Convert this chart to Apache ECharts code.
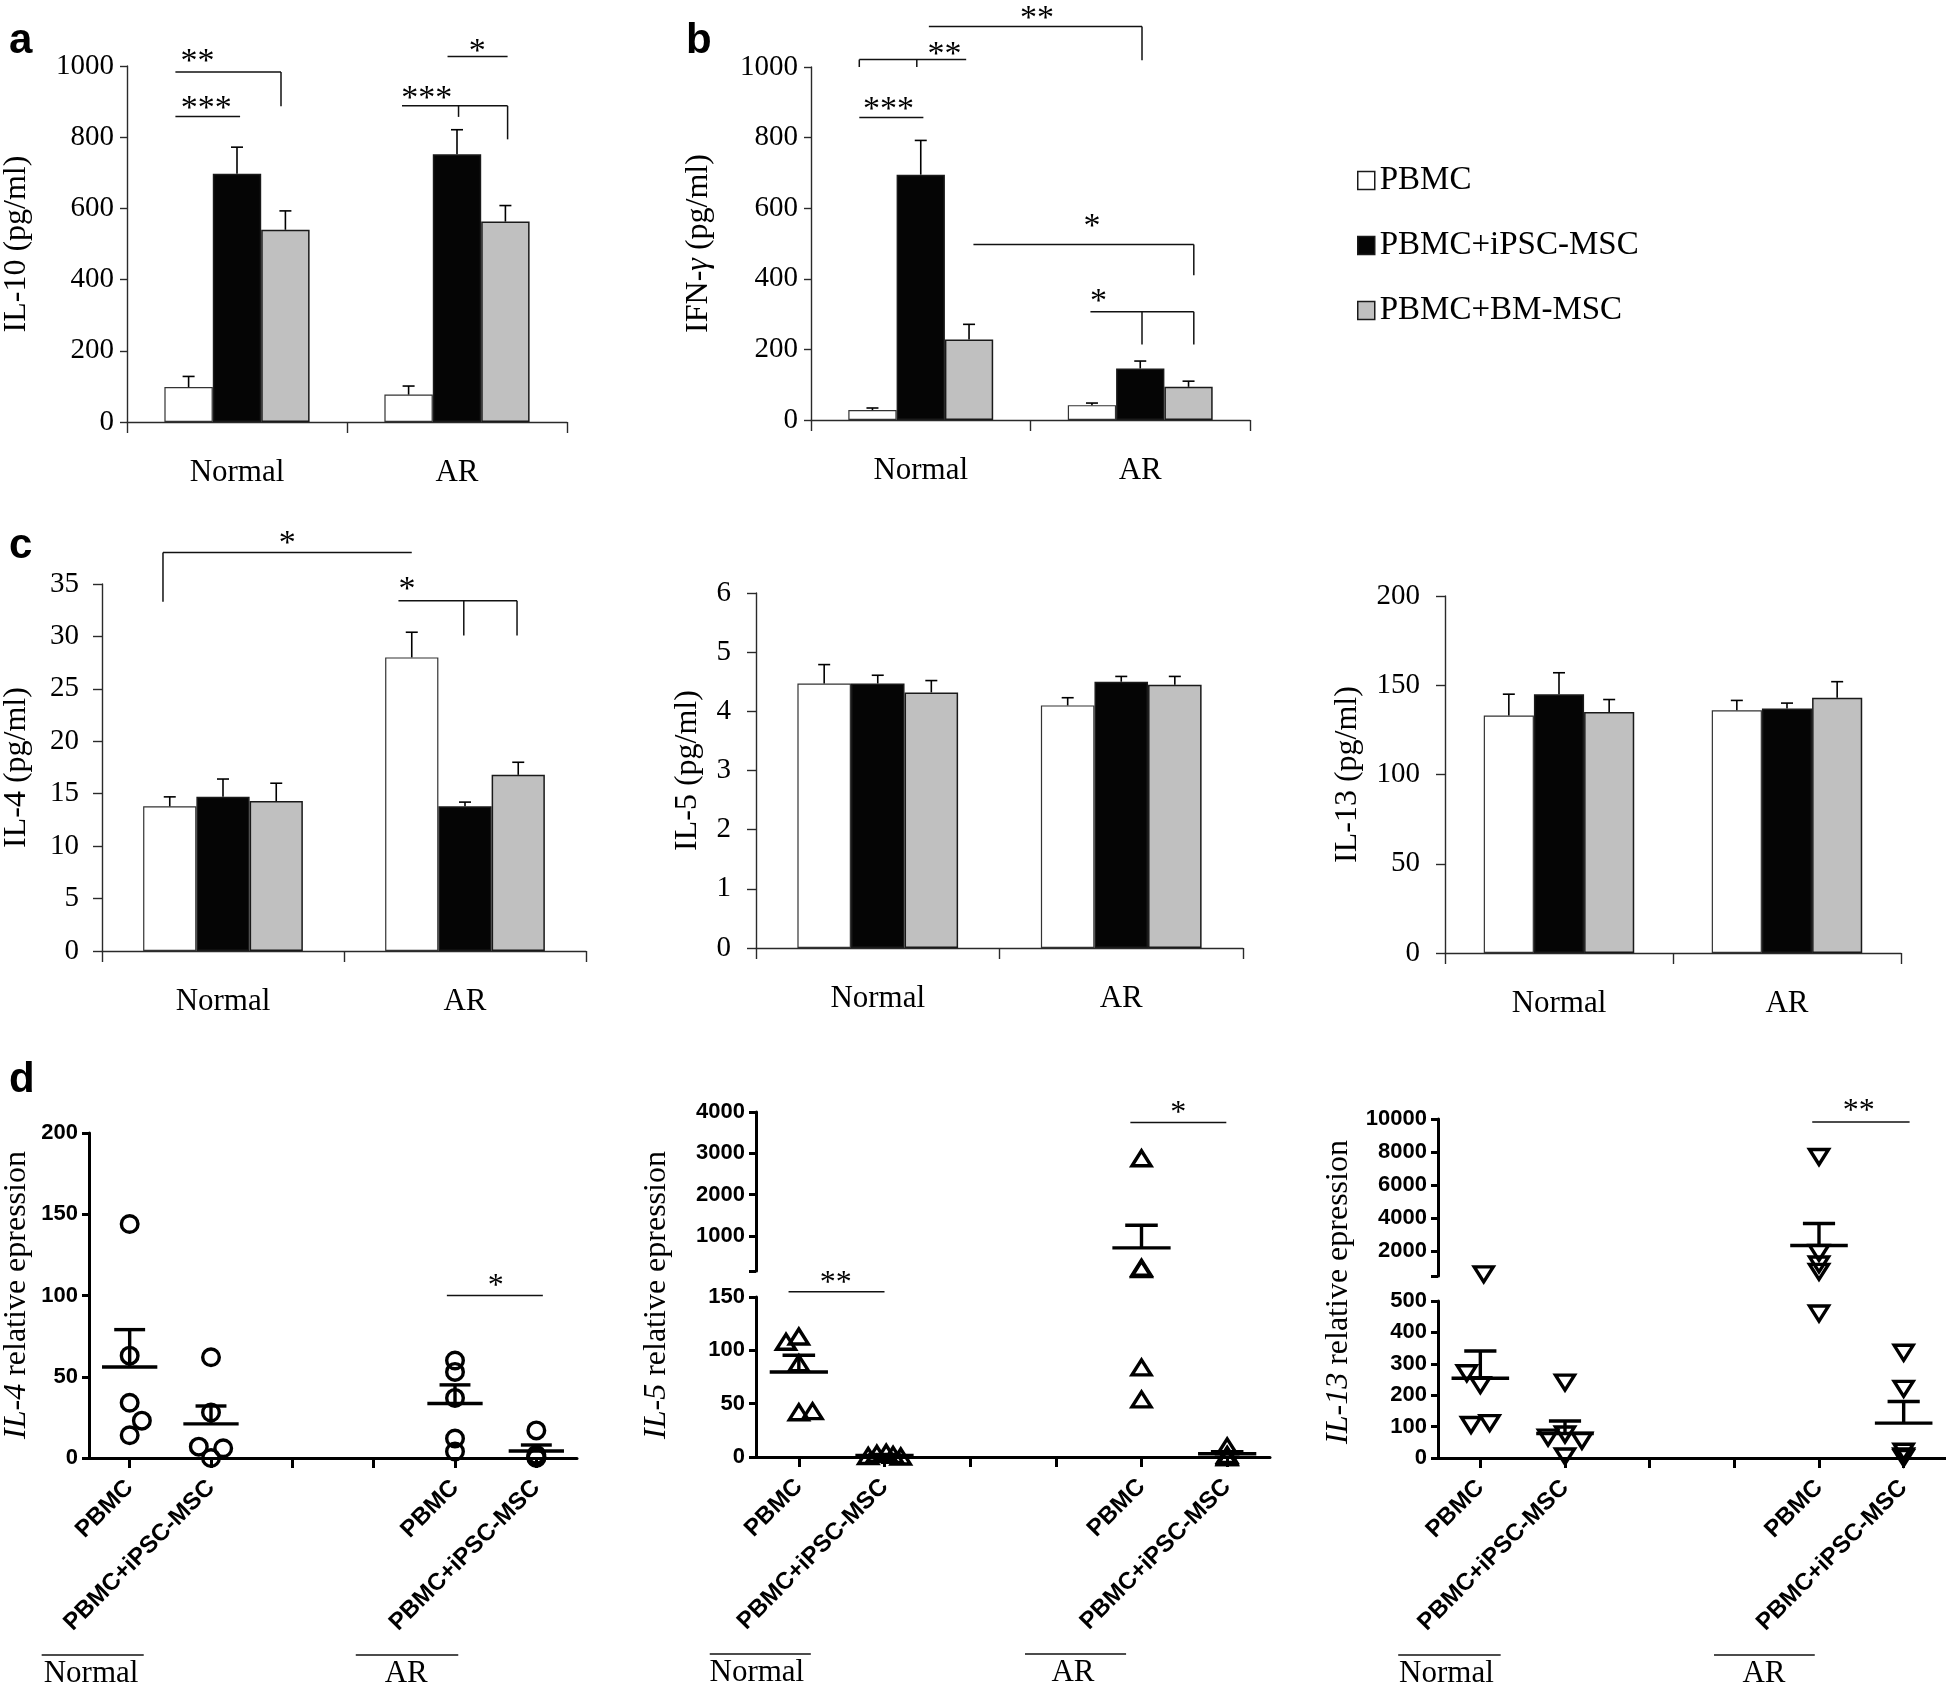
<!DOCTYPE html>
<html>
<head>
<meta charset="utf-8">
<script src="https://cdn.jsdelivr.net/npm/echarts@6.0.0/dist/echarts.min.js"></script>
<style>
html,body{margin:0;padding:0;background:#fff;}
#chart{width:1946px;height:1688px;}
</style>
</head>
<body>
<div id="chart"></div>
<script>
// ================= DATA =================
const groups = ['Normal', 'AR'];
const treatments = ['PBMC', 'PBMC+iPSC-MSC', 'PBMC+BM-MSC'];

// Panel a: IL-10 (pg/ml); rows = treatments, cols = [Normal, AR]
const il10Mean   = [[98, 77], [697, 752], [540, 563]];
const il10ErrTop = [[128, 101], [772, 821], [593, 608]];
// Panel b: IFN-gamma (pg/ml)
const ifngMean   = [[28, 42], [695, 146], [228, 94]];
const ifngErrTop = [[34, 48], [792, 167], [271, 110]];
// Panel c: IL-4, IL-5, IL-13 (pg/ml)
const il4Mean    = [[13.8, 28.0], [14.7, 13.8], [14.3, 16.8]];
const il4ErrTop  = [[14.7, 30.4], [16.4, 14.2], [16.0, 18.0]];
const il5Mean    = [[4.47, 4.10], [4.47, 4.50], [4.32, 4.45]];
const il5ErrTop  = [[4.79, 4.23], [4.61, 4.59], [4.52, 4.59]];
const il13Mean   = [[133, 136], [145, 137], [135, 143]];
const il13ErrTop = [[145, 141.5], [157, 140], [142, 152]];

// Panel d: relative expression; categories on x axis
const dCategories = ['PBMC', 'PBMC+iPSC-MSC', '', '', 'PBMC', 'PBMC+iPSC-MSC'];
// points: [category index, value, horizontal jitter in category widths]
const il4ExprPoints = [
  [0, 144, 0], [0, 63, 0], [0, 34, 0], [0, 23, 0.15], [0, 14, 0],
  [1, 62, 0], [1, 28, 0], [1, 7, -0.15], [1, 6, 0.15], [1, 0, 0],
  [4, 60, 0], [4, 53, 0], [4, 37, 0], [4, 12, 0], [4, 4, 0],
  [5, 17, 0], [5, 2, 0], [5, 1, 0], [5, 0.5, 0], [5, 0, 0]
];
// stats: [category index, mean, mean + SEM]
const il4ExprStats = [[0, 56, 79], [1, 21, 32], [4, 33.5, 45], [5, 4.3, 8]];

const il5ExprPoints = [
  [0, 108, -0.15], [0, 113, 0], [0, 88, 0], [0, 42, 0], [0, 43, 0.16],
  [1, 1, -0.19], [1, 3, -0.09], [1, 4, 0.02], [1, 2, 0.1], [1, 0.5, 0.19],
  [4, 2880, 0], [4, 230, 0], [4, 200, 0], [4, 84, 0], [4, 54, 0],
  [5, 10, 0], [5, 2, 0], [5, 1, 0], [5, 0, 0], [5, 0, 0]
];
const il5ExprStats = [[0, 79.7, 95.4], [1, 1.5, 2.5], [4, 710, 1258], [5, 3, 5]];

const il13ExprPoints = [
  [0, 600, 0.04], [0, 270, -0.16], [0, 232, 0], [0, 105, -0.11], [0, 111, 0.11],
  [1, 240, 0], [1, 65, -0.2], [1, 75, 0], [1, 55, 0.2], [1, 5, 0],
  [4, 7700, 0], [4, 1900, 0], [4, 1200, 0], [4, 750, 0], [4, 460, 0],
  [5, 335, 0], [5, 220, 0], [5, 20, 0], [5, 5, 0], [5, 0, 0]
];
const il13ExprStats = [[0, 254, 341], [1, 78, 118], [4, 2344, 3681], [5, 111, 180]];

// axis ticks / broken-axis segments
const il4LowerTicks  = [0, 50, 100, 150, 200];
const il5LowerTicks  = [0, 50, 100, 150];
const il5UpperTicks  = [150, 1000, 2000, 3000, 4000];
const il5UpperLabels = [1000, 2000, 3000, 4000];
const il13LowerTicks = [0, 100, 200, 300, 400, 500];
const il13UpperTicks = [500, 2000, 4000, 6000, 8000, 10000];
const il13UpperLabels = [2000, 4000, 6000, 8000, 10000];

// significance annotations: segments [x1, y1, x2, y2] (x in category units from first category), stars [x, y, text]
const sigA_segs = [[-0.28, 983, 0.2, 983], [0.2, 983, 0.2, 887], [-0.28, 858, 0.014, 858],
  [0.75, 888, 1.23, 888], [1.007, 888, 1.007, 857], [1.23, 888, 1.23, 794], [0.957, 1027, 1.23, 1027]];
const sigA_stars = [[-0.18, 1035, '**'], [-0.14, 903, '***'], [0.863, 932, '***'], [1.092, 1063, '*']];
const sigB_segs = [[0.037, 1115, 1.008, 1115], [1.008, 1115, 1.008, 1019],
  [-0.28, 1021, 0.207, 1021], [-0.28, 1021, -0.28, 1000], [-0.018, 1021, -0.018, 1000],
  [-0.28, 857, 0.012, 857],
  [0.24, 497, 1.244, 497], [1.244, 497, 1.244, 410],
  [0.773, 307, 1.244, 307], [1.008, 307, 1.008, 214], [1.244, 307, 1.244, 214]];
const sigB_stars = [[0.53, 1160, '**'], [0.108, 1057, '**'], [-0.147, 901, '***'], [0.78, 571, '*'], [0.81, 358, '*']];
const sigC_segs = [[-0.248, 38.0, 0.78, 38.0], [-0.248, 38.0, -0.248, 33.3],
  [0.725, 33.4, 1.215, 33.4], [0.995, 33.4, 0.995, 30.1], [1.215, 33.4, 1.215, 30.1]];
const sigC_stars = [[0.265, 39.66, '*'], [0.76, 35.2, '*']];
const sigD1_segs = [[3.9, 100, 5.08, 100]];
const sigD1_stars = [[4.5, 110.5, '*']];
const sigD2low_segs = [[-0.12, 155, 1.0, 155]];
const sigD2low_stars = [[0.43, 170, '**']];
const sigD2up_segs = [[3.87, 3744, 4.99, 3744]];
const sigD2up_stars = [[4.43, 4162, '*']];
const sigD3up_segs = [[3.92, 9818, 5.07, 9818]];
const sigD3up_stars = [[4.47, 10929, '**']];
// group underlines for panel d: [x1, x2, label, labelX]
const dLeftGroups  = [[-1.082, 0.173, 'Normal', -0.475], [2.78, 4.04, 'AR', 3.4]];
const dMidGroups   = [[-1.04, 0.14, 'Normal', -0.49], [2.64, 3.82, 'AR', 3.2]];
const dRightGroups = [[-0.97, 0.24, 'Normal', -0.4], [2.76, 3.95, 'AR', 3.35]];

// ================= STYLE / BUILD =================
const SERIF = '"Liberation Serif","Times New Roman",Times,serif';
const SANS = '"Liberation Sans",Arial,Helvetica,sans-serif';
const BAR_COLORS = ['#ffffff', '#050505', '#c0c0c0'];
const BAR_CAT_GAP = 0.34;
const AXIS_COLOR = '#2a2a2a';
const plain = function (v) { return String(v); };

const grids = [], xAxes = [], yAxes = [], series = [];
function addGrid(r) {
  grids.push({left: r[0], top: r[1], width: r[2], height: r[3], containLabel: false, outerBoundsMode: 'none'});
  return grids.length - 1;
}

function errSeries(gi, means, errs) {
  const data = [];
  for (let s = 0; s < 3; s++) for (let c = 0; c < 2; c++) data.push([c, means[s][c], errs[s][c], s]);
  return {
    type: 'custom', xAxisIndex: gi, yAxisIndex: gi, silent: true, clip: false, z: 5,
    encode: {x: 0, y: 1}, data: data,
    renderItem: function (params, api) {
      const band = api.size([1, 0])[0];
      const bw = band * (1 - BAR_CAT_GAP) / 3;
      const c = api.value(0), s = api.value(3);
      const p0 = api.coord([c, api.value(1)]);
      const p1 = api.coord([c, api.value(2)]);
      const x = p0[0] + (s - 1) * bw;
      const st = {stroke: '#000', lineWidth: 1.6};
      return {type: 'group', children: [
        {type: 'line', shape: {x1: x, y1: p0[1], x2: x, y2: p1[1]}, style: st},
        {type: 'line', shape: {x1: x - 6, y1: p1[1], x2: x + 6, y2: p1[1]}, style: st}
      ]};
    }
  };
}

function annSeries(gi, yMin, segs, stars, starSize, lineW, grp) {
  return {
    type: 'custom', xAxisIndex: gi, yAxisIndex: gi, silent: true, clip: false, z: 6,
    encode: {x: 0, y: 1}, data: [[0, yMin]],
    renderItem: function (params, api) {
      const band = api.size([1, 0])[0];
      const P = function (xc, v) { const p = api.coord([0, v]); return [p[0] + xc * band, p[1]]; };
      const ch = [];
      (segs || []).forEach(function (s) {
        const a = P(s[0], s[1]), b = P(s[2], s[3]);
        ch.push({type: 'line', shape: {x1: a[0], y1: a[1], x2: b[0], y2: b[1]}, style: {stroke: '#111', lineWidth: lineW}});
      });
      (stars || []).forEach(function (t) {
        const a = P(t[0], t[1]);
        ch.push({type: 'text', x: a[0], y: a[1] + starSize * 0.25,
          style: {text: t[2], fontFamily: SERIF, fontSize: starSize, fill: '#000', align: 'center', verticalAlign: 'middle'}});
      });
      if (grp) {
        const y0 = P(0, 0)[1];
        grp.forEach(function (g) {
          const a = P(g[0], 0), b = P(g[1], 0), t = P(g[3], 0);
          ch.push({type: 'line', shape: {x1: a[0], y1: y0 + 197, x2: b[0], y2: y0 + 197}, style: {stroke: '#111', lineWidth: 1.6}});
          ch.push({type: 'text', x: t[0], y: y0 + 216,
            style: {text: g[2], fontFamily: SERIF, fontSize: 31, fill: '#000', align: 'center', verticalAlign: 'middle'}});
        });
      }
      return {type: 'group', children: ch};
    }
  };
}

function barPanel(rect, means, errs, cfg, segs, stars) {
  const gi = addGrid(rect);
  xAxes.push({type: 'category', gridIndex: gi, data: groups, boundaryGap: true,
    axisLine: {show: true, lineStyle: {color: AXIS_COLOR, width: 1.4}},
    axisTick: {show: true, length: 11, alignWithLabel: false, lineStyle: {color: AXIS_COLOR, width: 1.4}},
    axisLabel: {fontFamily: SERIF, fontSize: 31, color: '#000', margin: 35, interval: 0},
    splitLine: {show: false}});
  yAxes.push({type: 'value', gridIndex: gi, min: cfg.min, max: cfg.max, interval: cfg.interval,
    name: cfg.name, nameLocation: 'middle', nameGap: cfg.nameGap, nameRotate: 90, nameMoveOverlap: false,
    nameTextStyle: {fontFamily: SERIF, fontSize: 32, color: '#000',
      rich: {g: {fontFamily: SERIF, fontSize: 32, fontStyle: 'italic', color: '#000'}}},
    axisLine: {show: true, lineStyle: {color: AXIS_COLOR, width: 1.4}},
    axisTick: {show: true, length: cfg.tickLen, lineStyle: {color: AXIS_COLOR, width: 1.4}},
    axisLabel: {fontFamily: SERIF, fontSize: 29, color: '#000', margin: cfg.labelMargin, formatter: plain},
    splitLine: {show: false}});
  treatments.forEach(function (nm, s) {
    series.push({type: 'bar', name: nm, xAxisIndex: gi, yAxisIndex: gi, data: means[s],
      barGap: '0%', barCategoryGap: (BAR_CAT_GAP * 100) + '%', silent: true, z: 3,
      itemStyle: {color: BAR_COLORS[s], borderColor: s === 0 ? '#333' : '#1a1a1a', borderWidth: s === 0 ? 1.2 : 1.5}});
  });
  series.push(errSeries(gi, means, errs));
  if (segs) series.push(annSeries(gi, cfg.min, segs, stars, 34, 1.5, null));
  return gi;
}

function dXAxis(gi, show) {
  return {type: 'category', gridIndex: gi, data: dCategories, boundaryGap: true, show: show,
    axisLine: {show: true, lineStyle: {color: '#000', width: 3}},
    axisTick: {show: true, alignWithLabel: true, interval: 0, length: 10, lineStyle: {color: '#000', width: 3}},
    axisLabel: {interval: 0, rotate: 45, fontFamily: SANS, fontWeight: 'bold', fontSize: 24, color: '#000', margin: 26},
    splitLine: {show: false}};
}
function dYAxis(gi, min, max, ticks, labels) {
  return {type: 'value', gridIndex: gi, min: min, max: max,
    axisLine: {show: true, lineStyle: {color: '#000', width: 3}},
    axisTick: {show: true, length: 7, customValues: ticks, lineStyle: {color: '#000', width: 3}},
    axisLabel: {fontFamily: SANS, fontWeight: 'bold', fontSize: 22, color: '#000', margin: 11, customValues: labels, formatter: plain},
    splitLine: {show: false}};
}

function pointSeries(gi, pts, marker) {
  return {type: 'custom', xAxisIndex: gi, yAxisIndex: gi, silent: true, clip: false, z: 4,
    encode: {x: 0, y: 1}, data: pts,
    renderItem: function (params, api) {
      const band = api.size([1, 0])[0];
      const p = api.coord([api.value(0), api.value(1)]);
      const x = p[0] + api.value(2) * band, y = p[1];
      const st = {fill: 'none', stroke: '#000', lineWidth: 3.4};
      if (marker === 'circle') return {type: 'circle', shape: {cx: x, cy: y, r: 8.3}, style: st};
      const w = 19, h = 15;
      const poly = marker === 'up'
        ? [[x, y - h / 2], [x - w / 2, y + h / 2], [x + w / 2, y + h / 2]]
        : [[x - w / 2, y - h / 2], [x + w / 2, y - h / 2], [x, y + h / 2]];
      return {type: 'polygon', shape: {points: poly}, style: st};
    }};
}
function statSeries(gi, stats) {
  return {type: 'custom', xAxisIndex: gi, yAxisIndex: gi, silent: true, clip: false, z: 5,
    encode: {x: 0, y: 1}, data: stats,
    renderItem: function (params, api) {
      const band = api.size([1, 0])[0];
      const pm = api.coord([api.value(0), api.value(1)]);
      const pe = api.coord([api.value(0), api.value(2)]);
      const st = {stroke: '#000', lineWidth: 3.4};
      const hm = 0.34 * band, hc = 0.19 * band;
      return {type: 'group', children: [
        {type: 'line', shape: {x1: pm[0] - hm, y1: pm[1], x2: pm[0] + hm, y2: pm[1]}, style: st},
        {type: 'line', shape: {x1: pm[0], y1: pm[1], x2: pm[0], y2: pe[1]}, style: st},
        {type: 'line', shape: {x1: pm[0] - hc, y1: pe[1], x2: pm[0] + hc, y2: pe[1]}, style: st}
      ]};
    }};
}
function splitAt(arr, idx, limit) {
  return [arr.filter(function (a) { return a[idx] <= limit; }), arr.filter(function (a) { return a[idx] > limit; })];
}

// ---- panels a, b, c ----
barPanel([127, 66, 440, 356], il10Mean, il10ErrTop,
  {min: 0, max: 1000, interval: 200, name: 'IL-10 (pg/ml)', nameGap: 94, tickLen: 7, labelMargin: 13}, sigA_segs, sigA_stars);
barPanel([811, 67, 439, 353], ifngMean, ifngErrTop,
  {min: 0, max: 1000, interval: 200, name: 'IFN-{g|γ} (pg/ml)', nameGap: 96, tickLen: 7, labelMargin: 13}, sigB_segs, sigB_stars);
barPanel([102, 584, 484, 367], il4Mean, il4ErrTop,
  {min: 0, max: 35, interval: 5, name: 'IL-4 (pg/ml)', nameGap: 69, tickLen: 9, labelMargin: 23}, sigC_segs, sigC_stars);
barPanel([756, 593, 487, 355], il5Mean, il5ErrTop,
  {min: 0, max: 6, interval: 1, name: 'IL-5 (pg/ml)', nameGap: 52, tickLen: 9, labelMargin: 25}, null, null);
barPanel([1445, 596, 456, 357], il13Mean, il13ErrTop,
  {min: 0, max: 200, interval: 50, name: 'IL-13 (pg/ml)', nameGap: 81, tickLen: 9, labelMargin: 25}, null, null);

// ---- panel d: IL-4 ----
let g = addGrid([89, 1133, 488, 325]);
xAxes.push(dXAxis(g, true));
yAxes.push(dYAxis(g, 0, 200, il4LowerTicks, il4LowerTicks));
series.push(pointSeries(g, il4ExprPoints, 'circle'));
series.push(statSeries(g, il4ExprStats));
series.push(annSeries(g, 0, sigD1_segs, sigD1_stars, 32, 1.5, dLeftGroups));

// ---- panel d: IL-5 (broken axis) ----
const il5Max = il5LowerTicks[il5LowerTicks.length - 1];
const il5P = splitAt(il5ExprPoints, 1, il5Max), il5S = splitAt(il5ExprStats, 1, il5Max);
let gl = addGrid([756, 1297, 514, 160]);
xAxes.push(dXAxis(gl, true));
yAxes.push(dYAxis(gl, 0, il5Max, il5LowerTicks, il5LowerTicks));
series.push(pointSeries(gl, il5P[0], 'up'));
series.push(statSeries(gl, il5S[0]));
series.push(annSeries(gl, 0, sigD2low_segs, sigD2low_stars, 32, 1.5, dMidGroups));
let gu = addGrid([756, 1112, 514, 159]);
xAxes.push(dXAxis(gu, false));
yAxes.push(dYAxis(gu, il5UpperTicks[0], il5UpperTicks[il5UpperTicks.length - 1], il5UpperTicks, il5UpperLabels));
series.push(pointSeries(gu, il5P[1], 'up'));
series.push(statSeries(gu, il5S[1]));
series.push(annSeries(gu, il5UpperTicks[0], sigD2up_segs, sigD2up_stars, 32, 1.5, null));

// ---- panel d: IL-13 (broken axis) ----
const il13Max = il13LowerTicks[il13LowerTicks.length - 1];
const il13P = splitAt(il13ExprPoints, 1, il13Max), il13S = splitAt(il13ExprStats, 1, il13Max);
gl = addGrid([1438, 1301, 508, 157]);
xAxes.push(dXAxis(gl, true));
yAxes.push(dYAxis(gl, 0, il13Max, il13LowerTicks, il13LowerTicks));
series.push(pointSeries(gl, il13P[0], 'down'));
series.push(statSeries(gl, il13S[0]));
series.push(annSeries(gl, 0, null, null, 32, 1.5, dRightGroups));
gu = addGrid([1438, 1119, 508, 157]);
xAxes.push(dXAxis(gu, false));
yAxes.push(dYAxis(gu, il13UpperTicks[0], il13UpperTicks[il13UpperTicks.length - 1], il13UpperTicks, il13UpperLabels));
series.push(pointSeries(gu, il13P[1], 'down'));
series.push(statSeries(gu, il13S[1]));
series.push(annSeries(gu, il13UpperTicks[0], sigD3up_segs, sigD3up_stars, 32, 1.5, null));

function panelLetter(t, x, yb) {
  return {type: 'text', x: x, y: yb, style: {text: t, fontFamily: SANS, fontWeight: 'bold', fontSize: 42, fill: '#000', align: 'left', verticalAlign: 'bottom'}};
}
function exprName(gene, x, y) {
  return {type: 'text', x: x, y: y, rotation: Math.PI / 2,
    style: {text: '{i|' + gene + '} relative epression', rich: {i: {fontFamily: SERIF, fontStyle: 'italic', fontSize: 32, fill: '#000'}},
      fontFamily: SERIF, fontSize: 32, fill: '#000', align: 'center', verticalAlign: 'middle'}};
}

const option = {
  animation: false,
  backgroundColor: '#ffffff',
  textStyle: {fontFamily: SERIF, color: '#000'},
  grid: grids, xAxis: xAxes, yAxis: yAxes, series: series,
  legend: {data: treatments, orient: 'vertical', left: 1352, top: 159, icon: 'rect',
    itemWidth: 17, itemHeight: 18, itemGap: 32, selectedMode: false,
    itemStyle: {borderColor: '#1a1a1a', borderWidth: 1.5},
    textStyle: {fontFamily: SERIF, fontSize: 33, color: '#000'}},
  graphic: [
    panelLetter('a', 9, 62), panelLetter('b', 686, 62), panelLetter('c', 9, 567), panelLetter('d', 9, 1101),
    exprName('IL-4', 17, 1295), exprName('IL-5', 657, 1295), exprName('IL-13', 1339, 1292)
  ]
};
const chart = echarts.init(document.getElementById('chart'), null, {width: 1946, height: 1688});
chart.setOption(option);
</script>
</body>
</html>
